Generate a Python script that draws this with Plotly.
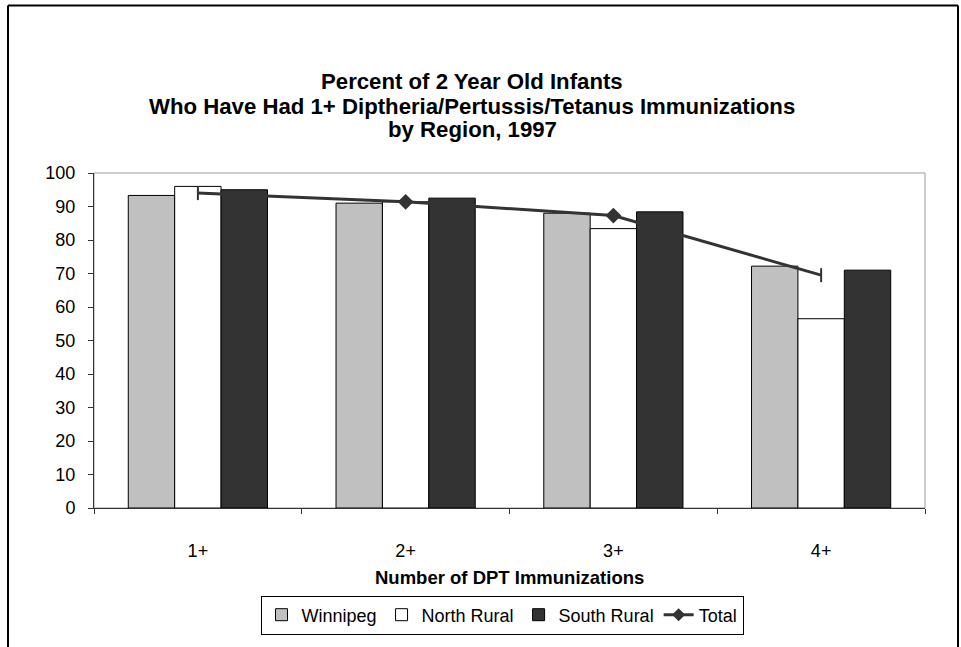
import plotly.graph_objects as go

categories = ["1+", "2+", "3+", "4+"]
winnipeg = [93.3, 91.0, 88.0, 72.2]
north_rural = [96.0, 91.4, 83.4, 56.5]
south_rural = [95.0, 92.5, 88.4, 71.0]
total = [94.0, 91.4, 87.3, 69.5]
total_symbols = ["line-ns", "diamond", "diamond", "line-ns"]
y_ticks = [0, 10, 20, 30, 40, 50, 60, 70, 80, 90, 100]

W, H = 961, 647
# plot area in screen coordinates
L, R, T, B = 94, 925, 173, 508
ml, mr, mt, mb = L, W - R, T, H - B
pw, ph = R - L, B - T

def px(X):
    return (X - L) / pw

def py(Y):
    return (B - Y) / ph

FONT = "Liberation Sans, Arial, sans-serif"

fig = go.Figure()
fig.add_trace(go.Bar(name="Winnipeg", x=categories, y=winnipeg,
                     marker=dict(color="#C0C0C0", line=dict(color="#000000", width=1))))
fig.add_trace(go.Bar(name="North Rural", x=categories, y=north_rural,
                     marker=dict(color="#FFFFFF", line=dict(color="#000000", width=1))))
fig.add_trace(go.Bar(name="South Rural", x=categories, y=south_rural,
                     marker=dict(color="#333333", line=dict(color="#000000", width=1))))
fig.add_trace(go.Scatter(name="Total", x=categories, y=total, mode="lines+markers",
                         showlegend=False,
                         line=dict(color="#333333", width=3),
                         marker=dict(symbol=total_symbols, size=10, color="#333333",
                                     line=dict(color="#333333", width=2))))
fig.add_trace(go.Scatter(name="Total", x=[None], y=[None], mode="lines+markers",
                         line=dict(color="#333333", width=3),
                         marker=dict(symbol="diamond", size=10, color="#333333")))

shapes = [
    dict(type="rect", xref="paper", yref="paper", x0=0, x1=1, y0=0, y1=1,
         line=dict(color="#999999", width=1), layer="below"),
    dict(type="line", xref="paper", yref="paper", x0=px(8), x1=px(958), y0=py(5.5), y1=py(5.5),
         line=dict(color="#000000", width=2)),
    dict(type="line", xref="paper", yref="paper", x0=px(8), x1=px(8), y0=py(5.5), y1=py(660),
         line=dict(color="#000000", width=2)),
    dict(type="line", xref="paper", yref="paper", x0=px(958), x1=px(958), y0=py(5.5), y1=py(660),
         line=dict(color="#000000", width=2)),
]

title_lines = ["Percent of 2 Year Old Infants",
               "Who Have Had 1+ Diptheria/Pertussis/Tetanus Immunizations",
               "by Region, 1997"]
title_y = [82, 106, 130]
annotations = []
for txt, yy in zip(title_lines, title_y):
    annotations.append(dict(text="<b>%s</b>" % txt, xref="paper", yref="paper",
                            x=px(472), y=py(yy), xanchor="center", yanchor="middle",
                            showarrow=False, font=dict(family=FONT, size=22.2, color="#000000")))
annotations.append(dict(text="<b>Number of DPT Immunizations</b>", xref="paper", yref="paper",
                        x=px(509), y=py(577), xanchor="center", yanchor="middle",
                        showarrow=False, font=dict(family=FONT, size=18.5, color="#000000")))

fig.update_layout(
    width=W, height=H,
    margin=dict(l=ml, r=mr, t=mt, b=mb, pad=0),
    paper_bgcolor="#FFFFFF", plot_bgcolor="#FFFFFF",
    barmode="group", bargap=0.33, bargroupgap=0,
    font=dict(family=FONT, size=18, color="#000000"),
    shapes=shapes, annotations=annotations,
    legend=dict(orientation="h", x=px(502), y=py(615), xanchor="center", yanchor="middle",
                bordercolor="#000000", borderwidth=1, bgcolor="#FFFFFF",
                font=dict(family=FONT, size=18, color="#000000"),
                itemwidth=30, tracegroupgap=0, traceorder="normal"),
    xaxis=dict(showgrid=False, showline=True, linecolor="#333333", linewidth=1,
               ticks="outside", ticklen=5, tickcolor="#333333", tickson="boundaries",
               ticklabelstandoff=26, tickfont=dict(size=18)),
    yaxis=dict(range=[0, 100], tickvals=y_ticks, showgrid=False, zeroline=False,
               showline=True, linecolor="#333333", linewidth=1,
               ticks="outside", ticklen=5, tickcolor="#333333",
               ticklabelstandoff=9, tickfont=dict(size=18)),
)

fig.write_html("out.html", config={"displayModeBar": False},
               post_script="document.body.style.margin='0';document.body.style.overflow='hidden';")
